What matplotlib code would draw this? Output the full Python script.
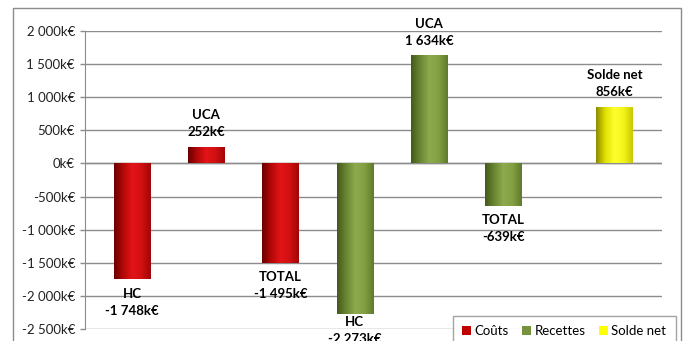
import numpy as np
import matplotlib
matplotlib.use("Agg")
import matplotlib.pyplot as plt
from matplotlib.colors import LinearSegmentedColormap
from matplotlib.patches import Rectangle, Patch

plt.rcParams["font.family"] = ["Lato", "DejaVu Sans"]

# --- data (k€) ---
categories = ["HC", "UCA", "TOTAL", "HC", "UCA", "TOTAL", "Solde net"]
values = [-1748, 252, -1495, -2273, 1634, -639, 856]
series = ["Coûts", "Coûts", "Coûts", "Recettes", "Recettes", "Recettes", "Solde net"]
positions = [0, 1, 2, 3, 4, 5, 6.5]
yticks = [2000, 1500, 1000, 500, 0, -500, -1000, -1500, -2000, -2500]

# cylinder-like shading: dark left edge, bright middle, slightly darker right
shades = {
    "Coûts": ["#6a0000", "#b40808", "#e41418", "#d01012", "#a00606"],
    "Recettes": ["#44581a", "#6a8632", "#8eaa4e", "#82a042", "#5f7a2c"],
    "Solde net": ["#8a8a00", "#e0e000", "#ffff30", "#f4f41c", "#c8c800"],
}
legend_colors = {"Coûts": "#c00000", "Recettes": "#76923c", "Solde net": "#ffff00"}


def fmt(v):
    s = f"{abs(v):,}".replace(",", " ")
    return ("-" if v < 0 else "") + s + "k€"


fig = plt.figure(figsize=(6.85, 3.41), dpi=100)
W, H = 685, 341
ax = fig.add_axes([85 / W, 1 - 329.3 / H, (662 - 85) / W, (329.3 - 30.7) / H])

bars = ax.bar(positions, values, width=0.49, color="none", edgecolor="none", zorder=3)

grad = np.linspace(0, 1, 256).reshape(1, -1)
for bar, s in zip(bars, series):
    cmap = LinearSegmentedColormap.from_list(s, shades[s])
    x0, y0 = bar.get_x(), bar.get_y()
    w, h = bar.get_width(), bar.get_height()
    im = ax.imshow(grad, cmap=cmap, aspect="auto", interpolation="bilinear",
                   extent=[x0, x0 + w, y0, y0 + h], zorder=3)
    im.set_clip_path(bar)

# data labels: above positive bars, below negative ones
# (the one near the axis floor gets squeezed up, like Excel does)
for x, v, c in zip(positions, values, categories):
    if v >= 0:
        off, va = 6, "bottom"
    elif v < -2200:
        off, va = -1, "top"
    else:
        off, va = -6, "top"
    ax.annotate(f"{c}\n{fmt(v)}", (x, v), xytext=(0, off), textcoords="offset points",
                ha="center", va=va, fontsize=9.5, fontweight="bold",
                linespacing=1.5, annotation_clip=False)

ax.set_xlim(-0.635, 7.14)
ax.set_ylim(-2500, 2000)
ax.set_yticks(yticks)
ax.set_yticklabels([fmt(t) for t in yticks], fontsize=9.5, color="#222222")
ax.set_xticks([])
ax.yaxis.grid(True, color="#8c8c8c", linewidth=1)
ax.set_axisbelow(True)
for side in ["top", "right", "bottom"]:
    ax.spines[side].set_visible(False)
ax.spines["left"].set_color("#8c8c8c")
ax.tick_params(axis="y", length=3.6, width=1, color="#8c8c8c", pad=3.6)
ax.axhline(0, color="#8c8c8c", linewidth=1, zorder=2)
ax.set_facecolor("none")

# outer chart frame
fig.patches.append(Rectangle((13 / W, -0.1), (681 - 13) / W, 1.1 - 8 / H,
                             transform=fig.transFigure, fill=False,
                             edgecolor="#8c8c8c", linewidth=1))

handles = [Patch(facecolor=legend_colors[k], edgecolor="none") for k in legend_colors]
leg = fig.legend(handles, list(legend_colors), loc="upper left", ncol=3,
                 bbox_to_anchor=(453 / W, 1 - 315.5 / H), fontsize=9.5,
                 frameon=True, fancybox=False, handlelength=0.7, handleheight=0.7,
                 handletextpad=0.25, columnspacing=1.0, borderpad=0.7,
                 borderaxespad=0)
leg.get_frame().set_edgecolor("#8c8c8c")
leg.get_frame().set_linewidth(1)

fig.savefig("out.png", dpi=100)
